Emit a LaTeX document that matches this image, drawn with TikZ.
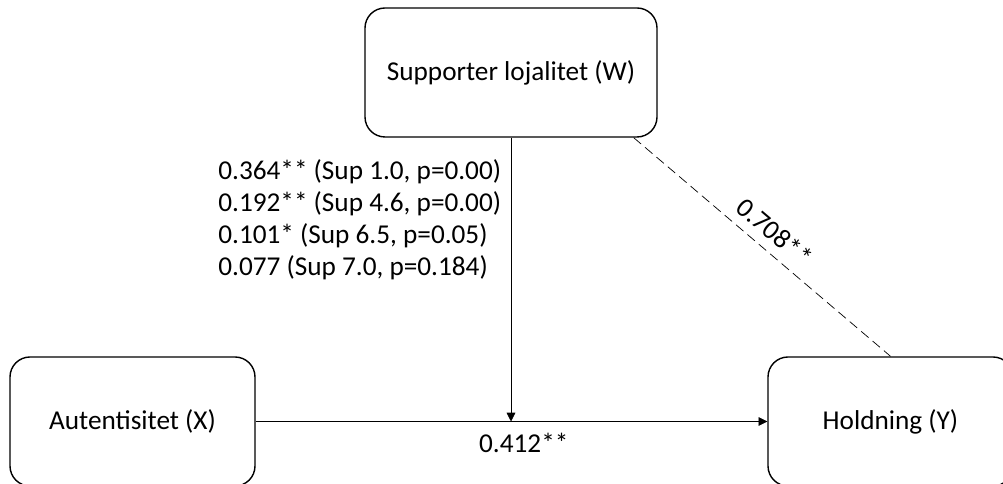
\documentclass[tikz,border=0pt]{standalone}
\usepackage{fontspec}
\setmainfont{Carlito}
\usepackage{tikz}
\usetikzlibrary{arrows.meta}

\tikzset{
  varbox/.style={draw, thick, rounded corners=0.4cm, minimum width=4.9cm, minimum height=2.58cm, inner sep=0pt},
  effect/.style={anchor=west, inner sep=0pt},
  >={Triangle[length=5pt,width=5pt]}
}

\begin{document}
\begin{tikzpicture}[font=\fontsize{15.5}{18}\selectfont]
                \useasboundingbox (0,0) rectangle (20.06,9.68);

                % Moderator on top
                \node[varbox, minimum width=5.84cm] (W) at (10.22, 8.23) {Supporter lojalitet (W)};

                % Predictor and outcome
                \node[varbox] (X) at (2.65, 1.25) {Autentisitet (X)};
                \node[varbox] (Y) at (17.81, 1.25) {Holdning (Y)};

                % Direct path
                \draw[->] (X.east) -- (Y.west) node[pos=0.524, below=3pt]{0.412**};

                % Moderation path
                \coordinate (hit) at (W.south |- X.east);
                \draw[->] (W.south) -- (hit);

                % Conditional effects
                \node[effect] (c1) at (4.36, 6.24) {0.364** (Sup 1.0, p=0.00)};
                \node[effect] (c2) at (4.36, 5.60) {0.192** (Sup 4.6, p=0.00)};
                \node[effect] (c3) at (4.36, 4.96) {0.101* (Sup 6.5, p=0.05)};
                \node[effect] (c4) at (4.36, 4.32) {0.077 (Sup 7.0, p=0.184)};

                % W -> Y
                \draw[dash pattern=on 5.5pt off 3pt] ([xshift=-0.48cm]W.south east) -- (Y.north) node[pos=0.5, sloped, above=2pt]{0.708**};
            \end{tikzpicture}
\end{document}
